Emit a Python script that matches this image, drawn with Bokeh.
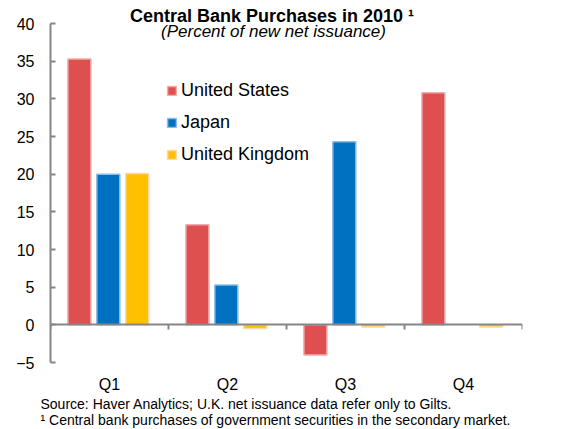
from bokeh.plotting import figure
from bokeh.models import (ColumnDataSource, LinearAxis, FixedTicker, Label, Legend, LegendItem, Range1d, Title)
from bokeh.embed import file_html
from bokeh.resources import INLINE

quarters = ["Q1", "Q2", "Q3", "Q4"]
united_states = [35.3, 13.3, -4.0, 30.8]
japan = [20.0, 5.3, 24.3, float("nan")]
united_kingdom = [20.1, -0.5, -0.3, -0.3]
y_ticks = [-5, 0, 5, 10, 15, 20, 25, 30, 35, 40]
footnotes = ["Source: Haver Analytics; U.K. net issuance data refer only to Gilts.",
             "\u00b9 Central bank purchases of government securities in the secondary market."]

FONT = "Liberation Sans"
GRAY = "#868686"

p = figure(width=566, height=428, output_backend="svg", toolbar_location=None,
           x_range=Range1d(0, 4), y_range=Range1d(-5, 42.13),
           x_axis_location=None, y_axis_location=None,
           min_border_left=50, min_border_right=44, min_border_top=7, min_border_bottom=66)
p.outline_line_color = None
p.grid.visible = False

idx = list(range(len(quarters)))
series = [
    ("United States", united_states, "#DE5050", "#F2AAAA", -0.255),
    ("Japan", japan, "#0070C0", "#8CBCE6", -0.01),
    ("United Kingdom", united_kingdom, "#FFC000", "#FFD8A8", 0.235),
]
items = []
for name, vals, fill, edge, off in series:
    src = ColumnDataSource(dict(x=[i + 0.5 + off for i in idx], top=vals))
    r = p.vbar(x="x", top="top", bottom=0, width=0.195, source=src,
               fill_color=fill, line_color=edge, line_width=1.5)
    items.append(LegendItem(label=name, renderers=[r]))

# y axis
yax = LinearAxis(ticker=FixedTicker(ticks=y_ticks), bounds=(-5, 40))
yax.axis_line_color = GRAY
yax.axis_line_width = 2
yax.major_tick_line_color = GRAY
yax.major_tick_line_width = 2
yax.major_tick_in = 5
yax.major_tick_out = 0
yax.minor_tick_line_color = None
yax.major_label_standoff = 16
yax.major_label_text_font = FONT
yax.major_label_text_font_size = "16px"
yax.major_label_text_color = "#000000"
p.add_layout(yax, "left")

# category axis
cax = LinearAxis(ticker=FixedTicker(ticks=[i + 0.5 for i in idx]),
                 major_label_overrides={i + 0.5: q for i, q in zip(idx, quarters)})
cax.axis_line_color = None
cax.major_tick_line_color = None
cax.minor_tick_line_color = None
cax.major_tick_out = 0
cax.major_tick_in = 0
cax.major_label_standoff = 13
cax.major_label_text_font = FONT
cax.major_label_text_font_size = "16px"
cax.major_label_text_color = "#000000"
p.add_layout(cax, "below")

# zero axis with category boundary ticks (no labels)
zax = LinearAxis(ticker=FixedTicker(ticks=list(range(len(quarters) + 1))), fixed_location=0)
zax.axis_line_color = GRAY
zax.axis_line_width = 2
zax.major_tick_line_color = GRAY
zax.major_tick_line_width = 2
zax.major_tick_in = 5
zax.major_tick_out = 0
zax.minor_tick_line_color = None
zax.major_label_text_color = None
zax.major_label_standoff = 0
p.add_layout(zax, "above")

legend = Legend(items=items, location=(116, 197))
legend.border_line_color = None
legend.background_fill_alpha = 0
legend.glyph_width = 11
legend.glyph_height = 11
legend.label_height = 20
legend.spacing = 11
legend.padding = 0
legend.margin = 0
legend.label_standoff = 4
legend.label_text_font = FONT
legend.label_text_font_size = "18px"
legend.label_text_color = "#000000"
p.add_layout(legend, "center")

def lbl(text, x, y, size, style="normal", align="left"):
    p.add_layout(Label(x=x, y=y, x_units="screen", y_units="screen", text=text,
                       text_font=FONT, text_font_size=size, text_font_style=style,
                       text_align=align, text_baseline="middle", text_color="#000000"))

lbl("Central Bank Purchases  in 2010 \u00b9", 224, 347, "18px", "bold", "center")
lbl("(Percent of new net issuance)", 223, 331, "17px", "italic", "center")

p.add_layout(Title(text="\n".join(footnotes), align="left", offset=-10, standoff=-4,
                   text_font=FONT, text_font_size="14px", text_font_style="normal",
                   text_color="#000000", text_line_height=1.0), "below")

open("out.html", "w").write(file_html(p, INLINE))
